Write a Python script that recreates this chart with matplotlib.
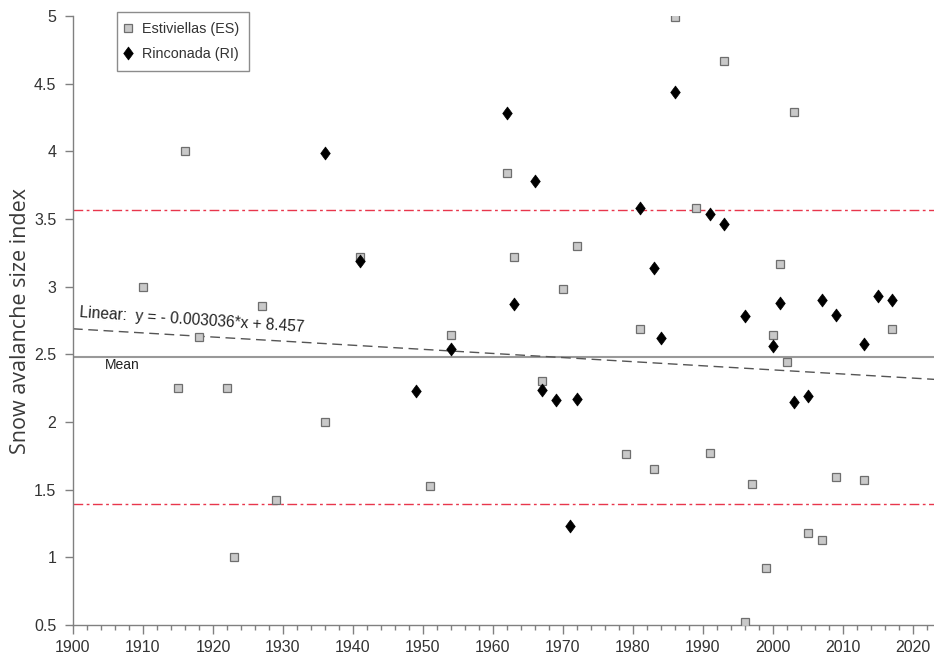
import matplotlib
matplotlib.use("Agg")
import matplotlib.pyplot as plt
from matplotlib.path import Path
import numpy as np

# Estiviellas (ES) avalanche events
es_years = [1910, 1915, 1916, 1918, 1922, 1923, 1927, 1929, 1936, 1941, 1951, 1954,
            1962, 1963, 1967, 1970, 1972, 1979, 1981, 1983, 1986, 1989, 1991, 1993,
            1996, 1997, 1999, 2000, 2001, 2002, 2003, 2005, 2007, 2009, 2013, 2017]
es_index = [3.00, 2.25, 4.00, 2.63, 2.25, 1.00, 2.86, 1.42, 2.00, 3.22, 1.53, 2.645,
            3.84, 3.22, 2.30, 2.98, 3.30, 1.76, 2.69, 1.65, 4.99, 3.58, 1.77, 4.67,
            0.52, 1.54, 0.92, 2.645, 3.17, 2.44, 4.29, 1.18, 1.13, 1.59, 1.57, 2.685]

# Rinconada (RI) avalanche events
ri_years = [1936, 1941, 1949, 1954, 1962, 1963, 1966, 1967, 1969, 1971, 1972, 1981,
            1983, 1984, 1986, 1991, 1993, 1996, 2000, 2001, 2003, 2005, 2007, 2009,
            2013, 2015, 2017]
ri_index = [3.99, 3.19, 2.23, 2.54, 4.28, 2.87, 3.78, 2.24, 2.16, 1.23, 2.17, 3.58,
            3.14, 2.62, 4.44, 3.54, 3.46, 2.78, 2.56, 2.88, 2.15, 2.19, 2.90, 2.79,
            2.58, 2.93, 2.90]

# Reference levels
mean_level = 2.48
upper_level = 3.565
lower_level = 1.395
trend_slope = -0.003036
trend_intercept = 8.457

x_ticks = list(range(1900, 2021, 10))
y_ticks = [0.5, 1, 1.5, 2, 2.5, 3, 3.5, 4, 4.5, 5]
y_tick_labels = ['0.5', '1', '1.5', '2', '2.5', '3', '3.5', '4', '4.5', '5']

plt.rcParams['font.family'] = ['Liberation Sans', 'DejaVu Sans']

fig = plt.figure(figsize=(9.34, 6.59), dpi=100)
ax = fig.add_axes([73 / 934, 34 / 659, 861 / 934, 609 / 659])

xmin, xmax = 1900, 2023
ax.set_xlim(xmin, xmax)
ax.set_ylim(0.5, 5)

# horizontal reference lines
ax.axhline(mean_level, color='#999999', lw=1.5, zorder=1)
ax.axhline(upper_level, color='#e8364c', lw=1.0, dashes=(7, 2.5, 2, 2.5), zorder=1)
ax.axhline(lower_level, color='#e8364c', lw=1.0, dashes=(7, 2.5, 2, 2.5), zorder=1)

# linear trend
tx = np.array([xmin, xmax], dtype=float)
ax.plot(tx, trend_slope * tx + trend_intercept, color='#555555', lw=1.0,
        dashes=(7, 4), zorder=1)

# tall diamond marker
diamond = Path([(0, 1), (0.74, 0), (0, -1), (-0.74, 0), (0, 1)],
               [Path.MOVETO, Path.LINETO, Path.LINETO, Path.LINETO, Path.CLOSEPOLY])

ax.plot(es_years, es_index, linestyle='none', marker='s', markersize=5.4,
        markerfacecolor='#c9c9c9', markeredgecolor='#6e6e6e', markeredgewidth=0.9,
        label='Estiviellas (ES)', zorder=3)
ax.plot(ri_years, ri_index, linestyle='none', marker=diamond, markersize=9.3,
        markerfacecolor='black', markeredgecolor='black', markeredgewidth=0.5,
        label='Rinconada (RI)', zorder=4)

ax.text(1900.9, 2.775, 'Linear:  y = - 0.003036*x + 8.457', fontsize=11.2,
        color='#222222', rotation=-3.8, rotation_mode='anchor',
        ha='left', va='baseline')
ax.text(1904.5, 2.39, 'Mean', fontsize=10, color='#222222',
        ha='left', va='baseline')

# axes styling
for side in ('top', 'right'):
    ax.spines[side].set_visible(False)
for side in ('left', 'bottom'):
    ax.spines[side].set_color('#808080')
    ax.spines[side].set_linewidth(1.0)

ax.set_xticks(x_ticks)
ax.set_xticks(np.arange(1900, 2023, 2), minor=True)
ax.set_yticks(y_ticks)
ax.set_yticklabels(y_tick_labels)
ax.tick_params(axis='both', which='major', direction='out', length=6, width=1,
               color='#808080', labelsize=11.5, labelcolor='#333333', pad=6)
ax.tick_params(axis='x', which='minor', direction='out', length=3.5, width=1,
               color='#808080')
ax.tick_params(axis='x', which='major', length=6.5, pad=4)

ax.set_ylabel('Snow avalanche size index', fontsize=15.5, color='#3a3a3a',
              family=['Open Sans', 'DejaVu Sans'])
ax.yaxis.set_label_coords(-42 / 861, 0.5)

leg = ax.legend(loc='upper left', bbox_to_anchor=(44 / 861, 1 + 4 / 609),
                borderaxespad=0, fontsize=10.4, frameon=True, fancybox=False,
                edgecolor='#707070', handlelength=0.1, handletextpad=0.9,
                borderpad=0.7, labelspacing=0.75, numpoints=1)
leg.get_frame().set_linewidth(1.0)
for t in leg.get_texts():
    t.set_color('#333333')

fig.savefig('out.png', dpi=100)
